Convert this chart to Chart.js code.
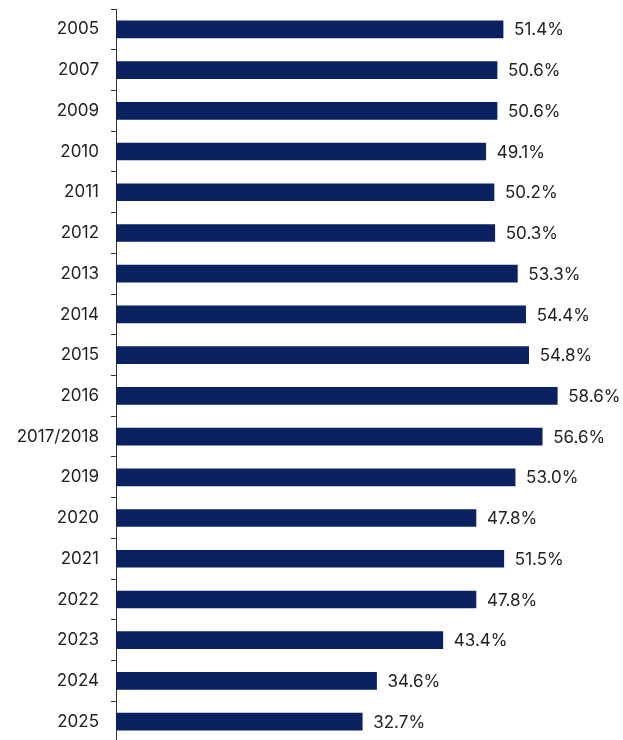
<!DOCTYPE html>
<html>
<head>
<meta charset="utf-8">
<script src="https://cdn.jsdelivr.net/npm/chart.js@4"></script>
<style>
  html, body { margin: 0; padding: 0; background: #fff; overflow: hidden; }
  canvas { display: block; }
</style>
</head>
<body>
<canvas id="barChart" width="623" height="742"></canvas>
<script>
const years = ['2005', '2007', '2009', '2010', '2011', '2012', '2013', '2014', '2015',
  '2016', '2017/2018', '2019', '2020', '2021', '2022', '2023', '2024', '2025'];
const shares = [51.4, 50.6, 50.6, 49.1, 50.2, 50.3, 53.3, 54.4, 54.8,
  58.6, 56.6, 53.0, 47.8, 51.5, 47.8, 43.4, 34.6, 32.7];

const fontFamily = 'Inter, "Liberation Sans", sans-serif';

// draw the percentage next to each bar
const valueLabels = {
    id: 'valueLabels',
    afterDatasetsDraw(chart) {
        const ctx = chart.ctx;
        const meta = chart.getDatasetMeta(0);
        ctx.save();
        ctx.font = '17px ' + fontFamily;
        ctx.fillStyle = '#222';
        ctx.textAlign = 'left';
        ctx.textBaseline = 'middle';
        meta.data.forEach((bar, i) => {
            ctx.fillText(shares[i].toFixed(1) + '%', bar.x + 11, bar.y + 1);
        });
        ctx.restore();
    }
};

new Chart(document.getElementById('barChart'), {
    type: 'bar',
    data: {
        labels: years,
        datasets: [{
            data: shares,
            backgroundColor: '#0b2260',
            barThickness: 17
        }]
    },
    options: {
        indexAxis: 'y',
        responsive: false,
        animation: false,
        layout: { padding: { top: 9, right: 10, bottom: 0, left: 0 } },
        plugins: { legend: { display: false }, tooltip: { enabled: false } },
        scales: {
            x: { display: false, min: 0, max: 66 },
            y: {
                afterFit: s => { s.width = 116; s.paddingTop = 0; s.paddingBottom = 0; },
                border: { display: true, color: '#333', width: 1 },
                grid: { display: true, drawOnChartArea: false, offset: true, tickLength: 5, color: '#333' },
                ticks: { color: '#222', padding: 12, font: { size: 17, family: fontFamily } }
            }
        }
    },
    plugins: [valueLabels]
});
</script>
</body>
</html>
